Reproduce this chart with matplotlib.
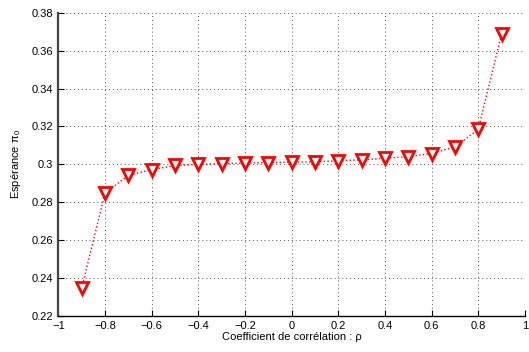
import numpy as np
import matplotlib
matplotlib.use('Agg')
import matplotlib.pyplot as plt

# correlation coefficient and expected value pi_0
rho = [-0.9, -0.8, -0.7, -0.6, -0.5, -0.4, -0.3, -0.2, -0.1, 0.0,
       0.1, 0.2, 0.3, 0.4, 0.5, 0.6, 0.7, 0.8, 0.9]
esperance = [0.2346, 0.2848, 0.2942, 0.2972, 0.2994, 0.3000, 0.3003, 0.3007, 0.3009, 0.3012,
             0.3013, 0.3019, 0.3024, 0.3032, 0.3041, 0.3057, 0.3092, 0.3184, 0.3688]

xticks = [-1, -0.8, -0.6, -0.4, -0.2, 0, 0.2, 0.4, 0.6, 0.8, 1]
xticklabels = ['\u22121', '\u22120.8', '\u22120.6', '\u22120.4', '\u22120.2', '0',
               '0.2', '0.4', '0.6', '0.8', '1']
yticks = [0.22, 0.24, 0.26, 0.28, 0.3, 0.32, 0.34, 0.36, 0.38]
yticklabels = ['0.22', '0.24', '0.26', '0.28', '0.3', '0.32', '0.34', '0.36', '0.38']

plt.rcParams['font.family'] = ['Liberation Sans', 'DejaVu Sans']
plt.rcParams['mathtext.fontset'] = 'custom'
plt.rcParams['mathtext.rm'] = 'Liberation Sans'

fig = plt.figure(figsize=(5.29, 3.52), dpi=100)
ax = fig.add_axes([0.1102, 0.1023, 0.882, 0.8616])

ax.plot(rho, esperance, color='red', linestyle=':', linewidth=1.0,
        marker='v', markersize=9, markerfacecolor='white',
        markeredgecolor='red', markeredgewidth=2.0, clip_on=False)

ax.set_xlim(-1, 1)
ax.set_ylim(0.22, 0.38)
ax.set_xticks(xticks)
ax.set_xticklabels(xticklabels)
ax.set_yticks(yticks)
ax.set_yticklabels(yticklabels)

ax.grid(True, linestyle=(0, (1, 3)), color='#555555', linewidth=0.7)
ax.set_axisbelow(True)

for side in ['top', 'right']:
    ax.spines[side].set_visible(False)
ax.spines['bottom'].set_linewidth(1.0)
ax.spines['left'].set_color('#444444')
ax.spines['left'].set_linewidth(1.6)

ax.tick_params(direction='in', length=4, labelsize=8, width=0.8)

ax.set_xlabel('Coefficient de corrélation : \u03c1', fontsize=8, labelpad=1)
ax.set_ylabel('Espérance $\\mathrm{\u03c0}_0$', fontsize=8, labelpad=6)

fig.savefig('out.png', dpi=100)
